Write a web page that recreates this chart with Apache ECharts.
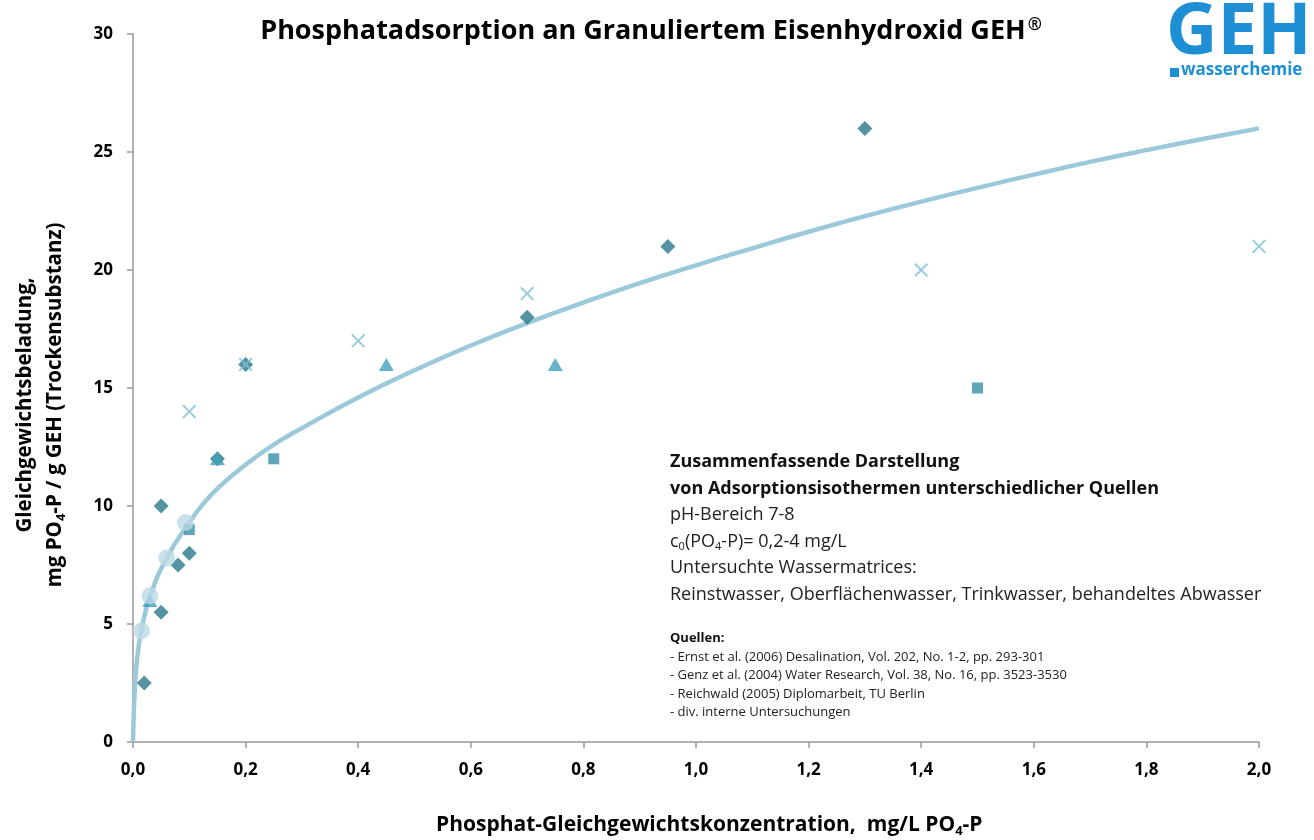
<!DOCTYPE html>
<html>
<head>
<meta charset="utf-8">
<script src="https://cdn.jsdelivr.net/npm/echarts@6/dist/echarts.min.js"></script>
<style>
	html, body { margin: 0; padding: 0; background: #fff; }
	#geh_chart { width: 1314px; height: 840px; }
</style>
</head>
<body>
<div id="geh_chart"></div>
<script>
// Messpunkte [x = mg/L PO4-P, y = mg PO4-P / g GEH]
var rauten = [[0.02, 2.5], [0.05, 5.5], [0.08, 7.5], [0.1, 8], [0.05, 10], [0.15, 12], [0.2, 16], [0.7, 18], [0.95, 21], [1.3, 26]];
var quadrate = [[0.1, 9], [0.25, 12], [1.5, 15]];
var dreiecke = [[0.03, 6], [0.15, 12], [0.45, 16], [0.75, 16]];
var kreuze = [[0.1, 14], [0.2, 16], [0.4, 17], [0.7, 19], [1.4, 20], [2.0, 21]];
var kreise = [[0.015, 4.7], [0.03, 6.2], [0.06, 7.8], [0.093, 9.3]];
// Isotherme
var kurve_x = [0, 0.004, 0.01, 0.015, 0.03, 0.06, 0.1, 0.125, 0.155, 0.2, 0.25, 0.3, 0.4, 0.5, 0.6, 0.7, 0.8, 0.9, 1.0, 1.1, 1.2, 1.3, 1.4, 1.5, 1.6, 1.7, 1.8, 1.9, 2.0];
var kurve_y = [0, 2.6, 4.05, 4.75, 6.15, 7.8, 9.3, 10.1, 10.85, 11.75, 12.6, 13.3, 14.6, 15.75, 16.8, 17.75, 18.62, 19.44, 20.2, 20.92, 21.62, 22.28, 22.9, 23.48, 24.04, 24.58, 25.08, 25.55, 26.0];
var x_ticks = [0, 0.2, 0.4, 0.6, 0.8, 1.0, 1.2, 1.4, 1.6, 1.8, 2.0];
var y_ticks = [0, 5, 10, 15, 20, 25, 30];

var kurve = kurve_x.map(function(x, i) { return [x, kurve_y[i]]; });
var font = "'Open Sans', sans-serif";
var kreuz_path = 'path://M0,1L1,0L5,4L9,0L10,1L6,5L10,9L9,10L5,6L1,10L0,9L4,5Z';

var chart = echarts.init(document.getElementById("geh_chart"));
var opt = {
	backgroundColor: '#fff',
	animation: false,
	title: {
		text: '{t|Phosphatadsorption an Granuliertem Eisenhydroxid GEH}{r|®}',
		left: 646,
		top: 12,
		textAlign: 'center',
		textStyle: {
			rich: {
				t: { fontFamily: font, fontWeight: 'bold', fontSize: 27, color: '#000' },
				r: { fontFamily: font, fontWeight: 'bold', fontSize: 17, color: '#000', padding: [0, 0, 12, 2] }
			}
		}
	},
	grid: { left: 133, right: 55, top: 34, bottom: 98 },
	xAxis: {
		type: 'value',
		min: x_ticks[0],
		max: x_ticks[x_ticks.length - 1],
		interval: 0.2,
		axisLine: { lineStyle: { color: '#999', width: 1.5 } },
		axisTick: { show: true, length: 6, lineStyle: { color: '#999', width: 1.5 } },
		splitLine: { show: false },
		axisLabel: {
			margin: 20,
			fontFamily: font, fontWeight: 'bold', fontSize: 17, color: '#000',
			formatter: function(v) { return v.toFixed(1).replace('.', ','); }
		}
	},
	yAxis: {
		type: 'value',
		min: y_ticks[0],
		max: y_ticks[y_ticks.length - 1],
		interval: 5,
		axisLine: { show: true, lineStyle: { color: '#999', width: 1.5 } },
		axisTick: { show: true, length: 6, lineStyle: { color: '#999', width: 1.5 } },
		splitLine: { show: false },
		axisLabel: { margin: 20, fontFamily: font, fontWeight: 'bold', fontSize: 17, color: '#000' }
	},
	series: [{
		name: 'Isotherme',
		type: 'line',
		data: kurve,
		smooth: true,
		showSymbol: false,
		lineStyle: { color: '#9CC9D9', width: 4.5 },
		z: 1
	}, {
		name: 'Quelle 1',
		type: 'scatter',
		data: rauten,
		symbol: 'diamond',
		symbolSize: [15, 15],
		itemStyle: { color: '#2A788B' },
		z: 2
	}, {
		name: 'Quelle 2',
		type: 'scatter',
		data: quadrate,
		symbol: 'rect',
		symbolSize: 11,
		itemStyle: { color: '#3A8EA7' },
		z: 3
	}, {
		name: 'Quelle 3',
		type: 'scatter',
		data: dreiecke,
		symbol: 'triangle',
		symbolSize: [15, 13],
		itemStyle: { color: '#40A1BB' },
		z: 4
	}, {
		name: 'Quelle 4',
		type: 'scatter',
		data: kreuze,
		symbol: kreuz_path,
		symbolSize: 14,
		itemStyle: { color: '#7EC0D3' },
		z: 5
	}, {
		name: 'Quelle 5',
		type: 'scatter',
		data: kreise,
		symbol: 'circle',
		symbolSize: 17,
		itemStyle: { color: '#BCDAE4' },
		z: 6
	}],
	graphic: [{
		// Achsentitel x
		type: 'text',
		left: 436,
		top: 815,
		style: {
			text: '{b|Phosphat-Gleichgewichtskonzentration,  mg/L PO}{s|4}{b|-P}',
			rich: {
				b: { fontFamily: font, fontWeight: 'bold', fontSize: 21, fill: '#000' },
				s: { fontFamily: font, fontWeight: 'bold', fontSize: 13, fill: '#000', padding: [12, 0, 0, 0] }
			}
		}
	}, {
		// Achsentitel y, zweizeilig
		type: 'text',
		x: 40,
		y: 405,
		rotation: Math.PI / 2,
		style: {
			text: '{b|Gleichgewichtsbeladung,}\n{b|mg PO}{s|4}{b|-P / g GEH (Trockensubstanz)}',
			align: 'center',
			verticalAlign: 'middle',
			rich: {
				b: { fontFamily: font, fontWeight: 'bold', fontSize: 20.5, fill: '#000', lineHeight: 30, align: 'center' },
				s: { fontFamily: font, fontWeight: 'bold', fontSize: 13, fill: '#000', padding: [12, 0, 0, 0] }
			}
		}
	}, {
		// Logo
		type: 'text',
		left: 1166,
		top: -2,
		style: { text: 'GEH', fontFamily: font, fontWeight: 'bold', fontSize: 71, fill: '#1E8FD5' }
	}, {
		type: 'rect',
		left: 1170,
		top: 68,
		shape: { width: 9, height: 9 },
		style: { fill: '#1E8FD5' }
	}, {
		type: 'text',
		left: 1181,
		top: 62,
		style: { text: 'wasserchemie', fontFamily: font, fontWeight: 'bold', fontSize: 17, fill: '#1E8FD5' }
	}, {
		// Textblock
		type: 'text',
		left: 670,
		top: 453,
		style: {
			text: [
				'{h|Zusammenfassende Darstellung}',
				'{h|von Adsorptionsisothermen unterschiedlicher Quellen}',
				'{n|pH-Bereich 7-8}',
				'{n|c}{s|0}{n|(PO}{s|4}{n|-P)= 0,2-4 mg/L}',
				'{n|Untersuchte Wassermatrices:}',
				'{n|Reinstwasser, Oberflächenwasser, Trinkwasser, behandeltes Abwasser}'
			].join('\n'),
			rich: {
				h: { fontFamily: font, fontWeight: 'bold', fontSize: 18, fill: '#111', lineHeight: 26.5 },
				n: { fontFamily: font, fontSize: 18, fill: '#222', lineHeight: 26.5 },
				s: { fontFamily: font, fontSize: 11, fill: '#222', padding: [11, 0, 0, 0], lineHeight: 26.5 }
			}
		}
	}, {
		type: 'text',
		left: 670,
		top: 632,
		style: {
			text: [
				'{h|Quellen:}',
				'{n|- Ernst et al. (2006) Desalination, Vol. 202, No. 1-2, pp. 293-301}',
				'{n|- Genz et al. (2004) Water Research, Vol. 38, No. 16, pp. 3523-3530}',
				'{n|- Reichwald (2005) Diplomarbeit, TU Berlin}',
				'{n|- div. interne Untersuchungen}'
			].join('\n'),
			rich: {
				h: { fontFamily: font, fontWeight: 'bold', fontSize: 13, fill: '#111', lineHeight: 18.5 },
				n: { fontFamily: font, fontSize: 13, fill: '#222', lineHeight: 18.5 }
			}
		}
	}]
};
chart.setOption(opt);
</script>
</body>
</html>
